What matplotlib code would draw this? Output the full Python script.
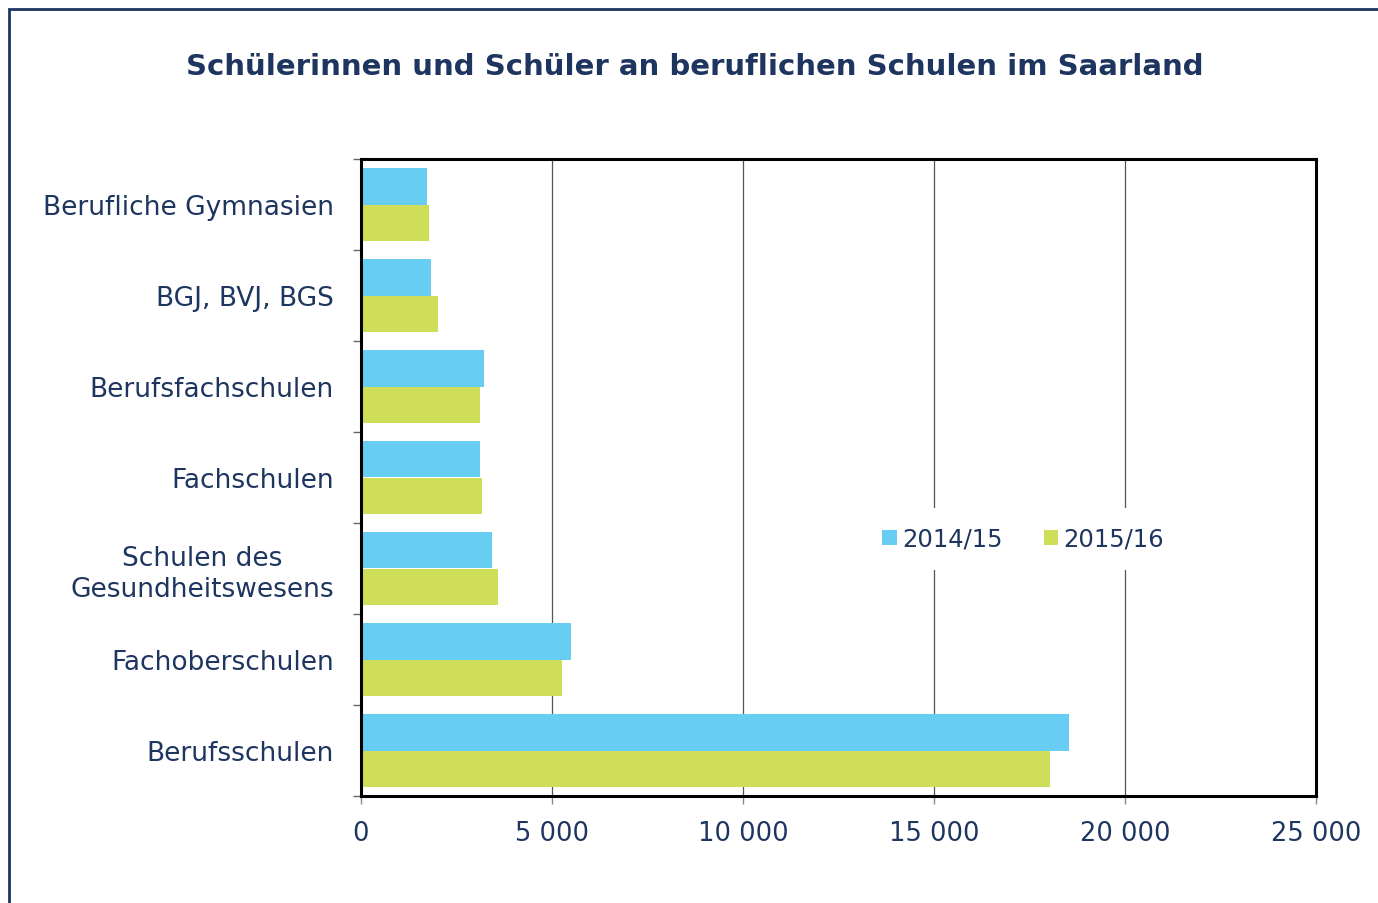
import matplotlib
matplotlib.use("Agg")
import matplotlib.pyplot as plt
from matplotlib.patches import Rectangle

categories = ["Berufliche Gymnasien", "BGJ, BVJ, BGS", "Berufsfachschulen", "Fachschulen",
              "Schulen des\nGesundheitswesens", "Fachoberschulen", "Berufsschulen"]
series_names = ["2014/15", "2015/16"]
values_2014 = [1720, 1830, 3210, 3110, 3420, 5510, 18530]
values_2015 = [1770, 2010, 3110, 3160, 3580, 5260, 18030]
xticks = [0, 5000, 10000, 15000, 20000, 25000]
xticklabels = ["0", "5 000", "10 000", "15 000", "20 000", "25 000"]

navy = "#1E3560"
blue = "#68CDF2"
green = "#CFDE58"

W, H = 1378, 904
fig = plt.figure(figsize=(W/100, H/100), dpi=100)
fig.patches.append(Rectangle((9/W, -0.1), 1.2, (H-10)/H + 0.1, transform=fig.transFigure,
                             fill=False, edgecolor=navy, linewidth=2))

ax = fig.add_axes([361/W, 1-797/H, (1316-361)/W, (797-160)/H])
ypos = list(range(len(categories)))
h = 0.4
ax.barh([y - h/2 for y in ypos], values_2014, height=h, color=blue, label=series_names[0], zorder=3)
ax.barh([y + h/2 for y in ypos], values_2015, height=h, color=green, label=series_names[1], zorder=3)
ax.set_ylim(len(categories)-0.5, -0.5)
ax.set_xlim(0, 25000)
ax.set_xticks(xticks)
ax.set_xticklabels(xticklabels, color=navy, fontsize=18.5)
ax.set_yticks([y for y in ypos])
ax.set_yticklabels(categories, color=navy, fontsize=19, linespacing=1.25,
                   multialignment="center")
ax.tick_params(axis='y', length=0, pad=19.5)
ax.set_yticks([y - 0.5 for y in range(len(categories)+1)], minor=True)
ax.tick_params(axis='y', which='minor', length=6, color="#666666", width=1)
ax.tick_params(axis='x', length=6, color="#888888", width=1, pad=11)
ax.grid(axis='x', color="#555555", linewidth=0.9, zorder=0)
for s in ax.spines.values():
    s.set_linewidth(2.2)
    s.set_color("black")
    s.set_zorder(5)

leg = ax.legend(loc="center", bbox_to_anchor=((1023-361)/(1316-361), (797-540)/(797-160)),
                ncol=2, frameon=True, fontsize=17.5, handlelength=0.6, handleheight=0.6,
                handletextpad=0.2, columnspacing=1.7, borderpad=0.8, edgecolor="none",
                fancybox=False, framealpha=1)
for t in leg.get_texts():
    t.set_color(navy)

fig.text(695/W, 1-67/H, "Schülerinnen und Schüler an beruflichen Schulen im Saarland",
         ha="center", va="center", fontsize=21, fontweight="bold", color=navy)

fig.savefig("out.png", dpi=100)
